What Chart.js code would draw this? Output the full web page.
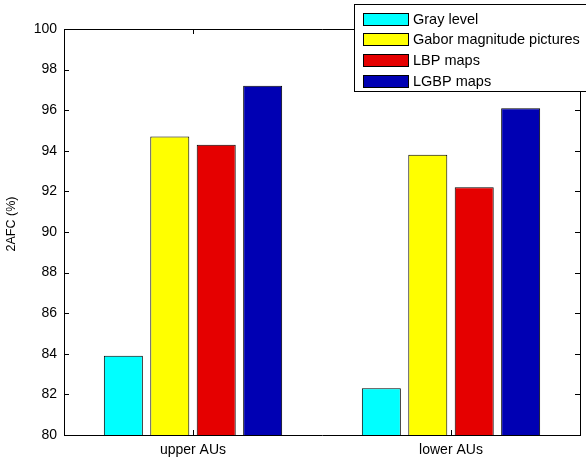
<!DOCTYPE html>
<html>
<head>
<meta charset="utf-8">
<script src="https://cdn.jsdelivr.net/npm/chart.js@4"></script>
<style>
  html, body { margin: 0; padding: 0; background: #fff; }
  #wrap { width: 586px; height: 458px; }
</style>
</head>
<body>
<div id="wrap"><canvas id="chart" width="586" height="458"></canvas></div>
<script>
const categories = ["upper AUs", "lower AUs"];
const seriesNames = ["Gray level", "Gabor magnitude pictures", "LBP maps", "LGBP maps"];
const grayLevel = [83.9, 82.3];
const gaborPictures = [94.7, 93.8];
const lbpMaps = [94.3, 92.2];
const lgbpMaps = [97.2, 96.1];
const seriesColors = ["#00ffff", "#ffff00", "#e50000", "#0000b3"];
const yTicks = [80, 82, 84, 86, 88, 90, 92, 94, 96, 98, 100];
const yTitle = "2AFC (%)";

const FONT = "'Liberation Sans', Arial, Helvetica, sans-serif";

// matlab style box, inward ticks, y title and legend on top of the axes
const matlabFrame = {
  id: "matlabFrame",
  afterDraw(chart) {
    const ctx = chart.ctx;
    const { left, right, top, bottom } = chart.chartArea;
    const x = chart.scales.x;
    const y = chart.scales.y;
    ctx.save();
    ctx.strokeStyle = "#000";
    ctx.lineWidth = 1;
    ctx.beginPath();
    ctx.moveTo(left, top + 0.5);
    ctx.lineTo(right + 0.5, top + 0.5);
    ctx.lineTo(right + 0.5, bottom);
    ctx.stroke();

    ctx.beginPath();
    yTicks.forEach(v => {
      const py = Math.round(y.getPixelForValue(v)) + 0.5;
      ctx.moveTo(left, py);
      ctx.lineTo(left + 5, py);
      ctx.moveTo(right, py);
      ctx.lineTo(right - 5, py);
    });
    categories.forEach((c, i) => {
      const px = Math.round(x.getPixelForValue(i)) + 0.5;
      ctx.moveTo(px, bottom);
      ctx.lineTo(px, bottom - 5);
      ctx.moveTo(px, top);
      ctx.lineTo(px, top + 5);
    });
    ctx.stroke();

    // y axis title
    ctx.save();
    ctx.translate(12, 224);
    ctx.rotate(-Math.PI / 2);
    ctx.fillStyle = "#000";
    ctx.font = "12.5px " + FONT;
    ctx.textAlign = "center";
    ctx.textBaseline = "middle";
    ctx.fillText(yTitle, 0, 0);
    ctx.restore();

    // legend
    const lx = 354.5, ly = 4.5, lw = 240, lh = 87;
    ctx.fillStyle = "#fff";
    ctx.fillRect(lx, ly, lw, lh);
    ctx.strokeRect(lx, ly, lw, lh);
    ctx.font = "14.5px " + FONT;
    ctx.textBaseline = "middle";
    chart.data.datasets.forEach((ds, i) => {
      const cy = 19 + i * 20.7;
      ctx.fillStyle = ds.backgroundColor;
      ctx.fillRect(363, Math.round(cy - 6.5), 46, 13);
      ctx.strokeStyle = "#000";
      ctx.strokeRect(363.5, Math.round(cy - 6.5) + 0.5, 45, 12);
      ctx.fillStyle = "#000";
      ctx.fillText(ds.label, 413, cy + 0.5);
    });
    ctx.restore();
  }
};

const seriesValues = [grayLevel, gaborPictures, lbpMaps, lgbpMaps];

new Chart(document.getElementById("chart"), {
  type: "bar",
  data: {
    labels: categories,
    datasets: seriesNames.map((name, i) => ({
      label: name,
      data: seriesValues[i],
      backgroundColor: seriesColors[i],
      borderColor: "#000",
      borderWidth: 1,
      categoryPercentage: 0.72,
      barPercentage: 0.84,
    })),
  },
  options: {
    responsive: false,
    animation: false,
    layout: { padding: { top: 29, right: 6, left: 0, bottom: 0 } },
    plugins: {
      legend: { display: false },
      tooltip: { enabled: false },
    },
    scales: {
      x: {
        grid: { display: false, drawTicks: false },
        border: { display: true, color: "#000", width: 1 },
        ticks: { color: "#000", padding: 7, font: { family: FONT, size: 14 } },
        afterFit(scale) { scale.height = 23; },
      },
      y: {
        min: 80,
        max: 100,
        grid: { display: false, drawTicks: false },
        border: { display: true, color: "#000", width: 1 },
        ticks: { stepSize: 2, color: "#000", padding: 7, font: { family: FONT, size: 14 } },
        afterFit(scale) { scale.width = 64; },
      },
    },
  },
  plugins: [matlabFrame],
});
</script>
</body>
</html>
